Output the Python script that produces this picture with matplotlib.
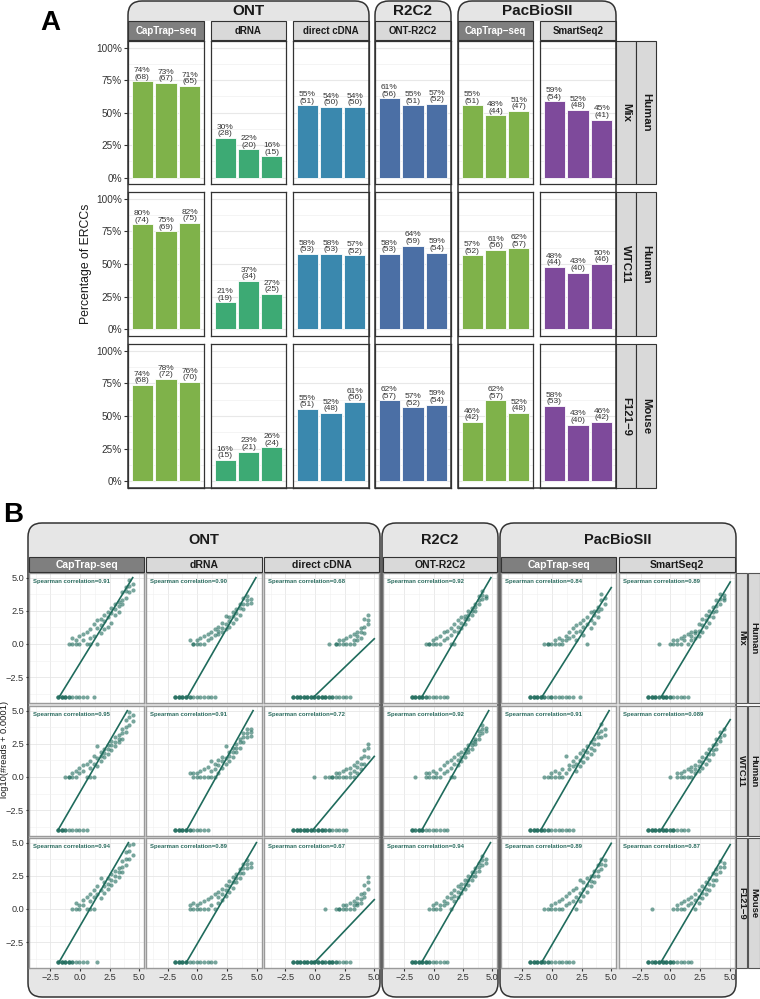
import numpy as np
import matplotlib.pyplot as plt
from matplotlib.path import Path
from matplotlib.patches import PathPatch, Rectangle

plt.rcParams['font.family'] = ['Liberation Sans', 'DejaVu Sans']

NA = np.nan

# ---------------- panel A data ----------------
platforms = ['ONT', 'R2C2', 'PacBioSII']
protocols_a = ['CapTrap−seq', 'dRNA', 'direct cDNA', 'ONT-R2C2', 'CapTrap−seq', 'SmartSeq2']
protocols_b = ['CapTrap-seq', 'dRNA', 'direct cDNA', 'ONT-R2C2', 'CapTrap-seq', 'SmartSeq2']
samples = ['Mix', 'WTC11', 'F121−9']
species = ['Human', 'Human', 'Mouse']
n_ercc = 92
bar_colors = ['#7fb24a', '#3daa74', '#3a88ae', '#4b6fa5', '#7fb24a', '#7e4a9b']

# detected ERCCs per replicate (3 bars per protocol)
det_mix = [[68, 67, 65], [28, 20, 15], [51, 50, 50], [56, 51, 52], [51, 44, 47], [54, 48, 41]]
det_wtc = [[74, 69, 75], [19, 34, 25], [53, 53, 52], [53, 59, 54], [52, 56, 57], [44, 40, 46]]
det_mus = [[68, 72, 70], [15, 21, 24], [51, 48, 56], [57, 52, 54], [42, 57, 48], [53, 40, 42]]

# ---------------- panel B data ----------------
# log10 expected ERCC abundance, three transcripts per level
ercc_levels = [-1.85, -1.55, -1.25, -0.95, -0.65, -0.35, -0.05, 0.25, 0.55, 0.85, 1.15,
               1.45, 1.75, 2.05, 2.35, 2.65, 2.95, 3.25, 3.55, 3.85, 4.15, 4.45]

y_mix_captrap = [
    -4,-4,-4, -4,-4,-4, -4,-4,-4, -4,-4,0, -4,0,0.48, -4,0,0.3, -4,0,0.6, -4,0.3,0.78,
    -4,0,0.9, 0,0.48,1.1, -4,0.6,1.5, 0,1.2,1.8, 0.85,1.4,1.9, 1.1,1.7,2.2, 1.3,2.0,2.4,
    1.6,2.3,2.7, 2.2,2.6,3.0, 2.4,2.9,3.2, 3.0,3.3,3.9, 3.5,4.0,4.3, 3.9,4.4,4.8, 4.1,4.5,NA]
y_mix_drna = [
    -4,-4,-4, -4,-4,-4, -4,-4,-4, -4,-4,-4, -4,-4,0.3, -4,0,0, -4,0,0.3, -4,0,0.48,
    -4,0,0.6, -4,0.3,0.78, -4,0.48,0.9, -4,0.7,1.1, 0.78,1.0,1.3, 0.9,1.2,1.6, 1.1,1.5,2.1,
    1.3,1.7,2.0, 1.6,2.1,2.4, 1.9,2.3,2.6, 2.2,2.7,3.0, 2.6,3.0,3.5, 3.0,3.3,3.6, 3.1,3.4,NA]
y_mix_dcdna = [
    -4,-4,-4, -4,-4,-4, -4,-4,-4, -4,-4,-4, -4,-4,-4, -4,-4,-4, -4,-4,-4, -4,-4,-4,
    -4,-4,-4, -4,-4,-4, -4,-4,0, -4,-4,NA, -4,0,0, -4,0,0.3, -4,0,0.3,
    -4,0,0.48, -4,0,0.6, 0,0.3,0.78, 0.3,0.6,0.9, 0.48,0.9,1.2, 0.85,1.3,1.9, 1.5,1.8,2.2]
y_mix_r2c2 = [
    -4,-4,-4, -4,-4,-4, -4,-4,-4, -4,-4,-4, -4,-4,0, -4,0,0, -4,0,0.3, -4,0,0.48,
    -4,0,0.6, -4,0.3,0.9, -4,0.48,1.0, 0,0.7,1.2, 0,1.0,1.5, 0.9,1.3,1.8, 1.2,1.6,2.0,
    1.5,1.9,2.1, 1.9,2.2,2.5, 2.2,2.5,2.7, 2.5,2.8,3.0, 3.0,3.3,3.6, 3.4,3.7,4.0, 3.5,3.6,NA]
y_mix_pbcap = [
    -4,-4,-4, -4,-4,-4, -4,-4,-4, -4,-4,-4, -4,-4,0, -4,0,0, -4,0,-4, -4,0,0.3,
    -4,0,0.48, -4,0,0.3, -4,0.3,0.6, -4,0.48,0.9, -4,0.6,1.2, 0.3,0.9,1.4, -4,1.0,1.6,
    0.7,1.3,1.8, 0,1.5,2.0, 1.2,1.8,2.4, 1.6,2.2,2.5, 2.0,2.5,2.8, 2.6,3.3,3.8, 3.0,3.5,NA]
y_mix_ss2 = [
    -4,-4,-4, -4,-4,-4, -4,-4,-4, -4,-4,0, -4,-4,-4, -4,-4,-4, -4,0,-4, -4,0,0.3,
    -4,0,0.3, -4,0,0.48, -4,0.3,0.6, -4,0,0.78, 0.3,0.6,0.9, 0.48,0.8,1.0, 0.6,1.0,1.5,
    0.9,1.4,1.9, 1.3,1.8,2.2, 1.6,2.1,2.5, 2.0,2.4,2.8, 2.5,2.9,3.3, 3.0,3.4,3.8, 3.3,3.7,3.5]

y_wtc_captrap = [
    -4,-4,-4, -4,-4,-4, -4,0,-4, -4,0,0, -4,0,0.3, -4,0,0.48, -4,0.3,0.7, -4,0.48,0.9,
    -4,0,1.0, 0,0.7,1.2, 0,1.0,1.6, 0.85,1.4,2.3, 1.2,1.6,1.9, 1.5,1.8,2.1, 1.7,2.1,2.4,
    2.0,2.4,2.7, 2.3,2.6,3.0, 2.6,2.9,3.2, 2.9,3.3,3.6, 3.4,3.8,4.3, 3.9,4.5,4.9, 4.2,4.7,NA]
y_wtc_drna = [
    -4,-4,-4, -4,-4,-4, -4,-4,-4, -4,-4,-4, -4,-4,0.3, -4,0,0.3, -4,0,0.3, -4,0,0.48,
    -4,0,0.6, -4,0,0.78, 0,0.48,1.2, 0,0.6,1.0, 0.3,0.9,1.3, 0.7,1.2,1.5, 1.0,1.4,2.3,
    1.2,1.6,1.9, 1.5,1.9,2.2, 1.9,2.2,2.5, 2.2,2.6,2.9, 2.6,3.0,3.3, 3.0,3.3,3.6, 3.1,3.4,3.6]
y_wtc_dcdna = [
    -4,-4,-4, -4,-4,-4, -4,-4,-4, -4,-4,-4, -4,-4,-4, -4,-4,-4, -4,-4,0, -4,-4,-4,
    -4,-4,-4, -4,-4,0, -4,-4,0, -4,0,0, -4,0,0.3, -4,0,0.3, -4,0,0.48,
    -4,0,0.6, 0,0.3,0.7, 0,0.48,0.9, 0.3,0.78,1.1, 0.6,1.0,1.4, 1.0,1.6,2.0, 1.5,2.2,2.5]
y_wtc_r2c2 = [
    -4,-4,-4, -4,0,-4, -4,-4,-4, -4,-4,-4, -4,0,0.3, -4,0,0.3, -4,0,0.48, -4,0,0.3,
    -4,0,0.6, -4,0.3,0.9, -4,0.48,1.1, 0,0.7,1.3, 0,1.0,1.5, 0.9,1.3,1.7, 1.2,1.5,1.9,
    1.5,1.8,2.1, 1.9,2.1,2.4, 2.1,2.4,2.6, 2.5,2.7,2.9, 2.9,3.2,3.5, 3.3,3.6,3.9, 3.5,3.7,NA]
y_wtc_pbcap = [
    -4,-4,-4, -4,-4,-4, -4,-4,-4, -4,-4,-4, -4,0,-4, -4,0,-4, -4,0,0.3, -4,0,0.48,
    -4,0,0.3, -4,0,0.6, -4,0.3,1.6, -4,0.6,0.9, -4,0.8,1.2, 0.48,1.0,1.5, 0.8,1.3,1.8,
    1.1,1.6,2.0, 1.4,1.9,2.3, 1.7,2.2,2.6, 2.0,2.5,2.9, 2.5,3.0,3.3, 3.0,3.5,4.0, 3.2,3.6,NA]
y_wtc_ss2 = [
    -4,-4,-4, -4,-4,-4, -4,-4,-4, -4,-4,-4, -4,-4,-4, -4,-4,-4, -4,0,-4, -4,-4,-4,
    -4,0,0.3, -4,0,0.3, -4,0,0.48, -4,0,0.6, 0,0.48,0.78, 0.3,0.6,0.9, 0.48,0.85,1.2,
    0.7,1.1,1.5, 1.0,1.4,1.8, 1.3,1.7,2.1, 1.7,2.0,2.4, 2.1,2.5,2.9, 2.7,3.0,3.4, 3.2,3.6,NA]

y_mus_captrap = [
    -4,-4,-4, -4,-4,-4, -4,-4,-4, -4,-4,-4, -4,-4,0, -4,0,0.48, -4,0,0.3, -4,0.3,0.7,
    -4,0,0.9, 0,0.6,1.1, 0,0.9,1.4, -4,1.1,1.7, 0.8,1.4,2.3, 1.2,1.7,2.0, 1.5,1.9,2.3,
    1.8,2.2,2.6, 2.1,2.5,2.9, 2.4,2.8,3.1, 2.8,3.2,3.6, 3.3,3.8,4.3, 3.8,4.4,4.8, 4.1,4.9,NA]
y_mus_drna = [
    -4,-4,-4, -4,-4,-4, -4,-4,-4, -4,-4,-4, -4,0,0.3, -4,0,0.48, -4,0,0.3, -4,0,0.48,
    -4,0,0.6, -4,0,0.78, -4,0.3,0.9, -4,0,1.1, 0.48,0.9,1.3, 0.7,1.1,1.5, 1.0,1.4,1.8,
    1.3,1.7,2.1, 1.6,2.0,2.4, 2.0,2.3,2.6, 2.3,2.7,3.0, 2.7,3.1,3.4, 3.1,3.4,3.7, 3.2,3.5,NA]
y_mus_dcdna = [
    -4,-4,-4, -4,-4,-4, -4,-4,-4, -4,-4,-4, -4,-4,-4, -4,-4,-4, -4,-4,-4, -4,-4,-4,
    -4,-4,-4, -4,-4,0, -4,-4,-4, -4,-4,-4, -4,0,-4, -4,0,0, -4,0,0.3,
    -4,0,0.3, -4,0,0.48, 0,0.3,0.6, 0.3,0.48,0.85, 0.48,0.78,1.1, 0.9,1.2,1.8, 1.5,2.0,2.4]
y_mus_r2c2 = [
    -4,-4,-4, -4,-4,-4, -4,-4,-4, -4,-4,-4, -4,-4,-4, -4,0,-4, -4,0,0.3, -4,0,0.48,
    -4,0,0.3, -4,0.3,0.6, -4,0.48,0.9, 0,0.8,1.2, 0.6,1.0,1.4, 0.9,1.3,1.7, 1.2,1.6,1.9,
    1.5,1.9,2.2, 1.8,2.2,2.5, 2.2,2.5,2.8, 2.5,2.8,3.1, 2.9,3.2,3.5, 3.3,3.7,4.0, 3.5,3.8,NA]
y_mus_pbcap = [
    -4,-4,-4, -4,-4,-4, -4,-4,-4, -4,-4,-4, -4,0,-4, -4,0,-4, -4,0,0.3, -4,0,0.48,
    -4,0,0.6, -4,0,0.78, -4,0.3,1.0, -4,0.48,1.2, -4,0.6,1.4, 0,0.9,1.6, 0.6,1.2,2.2,
    1.0,1.5,2.0, 1.3,1.8,2.3, 1.7,2.1,2.5, 2.0,2.5,2.9, 2.5,2.9,3.3, 3.0,3.4,3.8, 3.3,3.7,NA]
y_mus_ss2 = [
    -4,-4,-4, -4,-4,0, -4,-4,-4, -4,-4,-4, -4,-4,-4, -4,-4,-4, -4,-4,-4, -4,0,-4,
    -4,0,0.3, -4,0,0.48, -4,0,0.6, -4,0.3,0.78, -4,0.48,0.9, 0,0.7,1.1, 0.48,0.9,1.4,
    0.8,1.2,1.7, 1.1,1.5,2.0, 1.4,1.9,2.3, 1.8,2.2,2.7, 2.2,2.6,3.0, 2.8,3.2,3.6, 3.2,3.5,NA]

# linear fit (slope, intercept) shown in each panel
slope_mix = [1.45, 1.57, 0.86, 1.53, 1.41, 1.50]
icpt_mix = [-1.45, -2.68, -3.91, -2.47, -2.80, -2.83]
slope_wtc = [1.54, 1.62, 1.07, 1.58, 1.56, 1.44]
icpt_wtc = [-1.15, -2.54, -3.80, -2.42, -2.52, -2.88]
slope_mus = [1.54, 1.54, 0.94, 1.54, 1.53, 1.53]
icpt_mus = [-1.29, -2.60, -4.00, -2.46, -2.70, -2.80]

rho_mix = ['0.91', '0.90', '0.68', '0.92', '0.84', '0.89']
rho_wtc = ['0.95', '0.91', '0.72', '0.92', '0.91', '0.089']
rho_mus = ['0.94', '0.89', '0.67', '0.94', '0.89', '0.87']

det_rows = [det_mix, det_wtc, det_mus]
y_rows = [[y_mix_captrap, y_mix_drna, y_mix_dcdna, y_mix_r2c2, y_mix_pbcap, y_mix_ss2],
          [y_wtc_captrap, y_wtc_drna, y_wtc_dcdna, y_wtc_r2c2, y_wtc_pbcap, y_wtc_ss2],
          [y_mus_captrap, y_mus_drna, y_mus_dcdna, y_mus_r2c2, y_mus_pbcap, y_mus_ss2]]
slope_rows = [slope_mix, slope_wtc, slope_mus]
icpt_rows = [icpt_mix, icpt_wtc, icpt_mus]
rho_rows = [rho_mix, rho_wtc, rho_mus]

# ---------------- layout helpers (pixel coords, y down) ----------------
W, H = 760, 999
fig = plt.figure(figsize=(W / 100, H / 100), dpi=100)


def fxy(x, y):
    return (x / W, 1 - y / H)


def add_ax(x0, y0, x1, y1):
    return fig.add_axes([x0 / W, 1 - y1 / H, (x1 - x0) / W, (y1 - y0) / H])


def rounded(x0, y0, x1, y1, rt, rb, **kw):
    pts = [(x0, y0 + rt), (x0, y0), (x0 + rt, y0), (x1 - rt, y0), (x1, y0), (x1, y0 + rt),
           (x1, y1 - rb), (x1, y1), (x1 - rb, y1), (x0 + rb, y1), (x0, y1), (x0, y1 - rb),
           (x0, y0 + rt)]
    codes = [Path.MOVETO, Path.CURVE3, Path.CURVE3, Path.LINETO, Path.CURVE3, Path.CURVE3,
             Path.LINETO, Path.CURVE3, Path.CURVE3, Path.LINETO, Path.CURVE3, Path.CURVE3,
             Path.CLOSEPOLY]
    fig.add_artist(PathPatch(Path([fxy(*q) for q in pts], codes),
                             transform=fig.transFigure, **kw))


def strip(x0, y0, x1, y1, text, dark=False, rot=0, size=6.5, ec='#333333'):
    fig.add_artist(Rectangle(fxy(x0, y1), (x1 - x0) / W, (y1 - y0) / H,
                             transform=fig.transFigure, fc='#7f7f7f' if dark else '#d9d9d9',
                             ec=ec, lw=0.8, zorder=2))
    fig.text((x0 + x1) / 2 / W, 1 - (y0 + y1) / 2 / H, text, ha='center', va='center',
             rotation=rot, fontsize=size, fontweight='bold',
             color='white' if dark else '#1a1a1a', zorder=3)


# ================= Panel A =================
a_cols = [(128, 204), (211, 286), (293, 369), (375, 451), (458, 533), (540, 616)]
a_rows = [(41, 184), (192, 336), (344, 488)]
a_groups = [(128, 369), (375, 451), (458, 616)]

for (x0, x1), name in zip(a_groups, platforms):
    rounded(x0, 1, x1, 21, 14, 0, fc='#e5e5e5', ec='none', zorder=-1)
    rounded(x0, 1, x1, 488, 14, 0, fc='none', ec='#333333', lw=1.1, zorder=4)
    fig.text((x0 + x1) / 2 / W, 1 - 11 / H, name, ha='center', va='center',
             fontsize=11, fontweight='bold', color='#1a1a1a')

for c, (x0, x1) in enumerate(a_cols):
    strip(x0, 21, x1, 40, protocols_a[c], dark=(c in (0, 4)), size=7.0)

for r, (y0, y1) in enumerate(a_rows):
    for c, (x0, x1) in enumerate(a_cols):
        ax = add_ax(x0, y0, x1, y1)
        counts = det_rows[r][c]
        pct = [100 * n / n_ercc for n in counts]
        ax.bar(range(3), pct, width=0.9, color=bar_colors[c], edgecolor='white', linewidth=0.6)
        for i, (p, n) in enumerate(zip(pct, counts)):
            ax.text(i, p + 0.5, f'{round(p)}%\n({n})', ha='center', va='bottom',
                    fontsize=6.0, linespacing=0.9, color='#333333')
        ax.set_xlim(-0.6, 2.6)
        ax.set_ylim(-5, 105)
        ax.set_xticks([])
        ax.set_yticks([0, 25, 50, 75, 100])
        ax.set_yticks([12.5, 37.5, 62.5, 87.5], minor=True)
        ax.grid(axis='y', which='major', color='#e8e8e8', lw=0.8)
        ax.grid(axis='y', which='minor', color='#f0f0f0', lw=0.5)
        ax.set_axisbelow(True)
        ax.tick_params(axis='y', which='minor', length=0)
        if c == 0:
            ax.set_yticklabels(['0%', '25%', '50%', '75%', '100%'])
            ax.tick_params(axis='y', which='major', length=3, color='#333333',
                           labelsize=7.2, labelcolor='#333333', pad=1.5)
        else:
            ax.tick_params(axis='y', which='major', length=0, labelleft=False)
        for s in ax.spines.values():
            s.set_color('#333333')
            s.set_linewidth(0.9)
    strip(616, y0, 636, y1, samples[r], rot=-90, size=8.2)
    strip(636, y0, 656, y1, species[r], rot=-90, size=8.2)

fig.text(86 / W, 1 - 264 / H, 'Percentage of ERCCs', rotation=90, ha='center',
         va='center', fontsize=8.8, color='#1a1a1a')
fig.text(50 / W, 1 - 23 / H, 'A', ha='center', va='center', fontsize=20, fontweight='bold')

# ================= Panel B =================
b_cols = [(29, 144), (146, 262), (264, 379), (383, 497), (501, 616), (619, 735)]
b_rows = [(573, 703), (706, 836), (838, 968)]
b_groups = [(28, 380), (382, 498), (500, 736)]
pt_color = '#1f6b5c'

for (x0, x1), name in zip(b_groups, platforms):
    rounded(x0, 523, x1, 997, 14, 14, fc='#e6e6e6', ec='#333333', lw=1.1, zorder=-1)
    fig.text((x0 + x1) / 2 / W, 1 - 540 / H, name, ha='center', va='center',
             fontsize=10.5, fontweight='bold', color='#1a1a1a')

for c, (x0, x1) in enumerate(b_cols):
    strip(x0, 557, x1, 572, protocols_b[c], dark=(c in (0, 4)), size=7.5)

xs = np.repeat(ercc_levels, 3)
ticks = [-2.5, 0, 2.5, 5]
tick_lbl = ['−2.5', '0.0', '2.5', '5.0']

for r, (y0, y1) in enumerate(b_rows):
    for c, (x0, x1) in enumerate(b_cols):
        ax = add_ax(x0, y0, x1, y1)
        ys = np.array(y_rows[r][c], dtype=float)
        n = min(len(xs), len(ys))
        ax.scatter(xs[:n], ys[:n], s=9, color=pt_color, alpha=0.6, lw=0, zorder=3)
        m, b = slope_rows[r][c], icpt_rows[r][c]
        lo = max(ercc_levels[0], (-4 - b) / m)
        hi = min(5.0, (5.0 - b) / m)
        xl = np.array([lo, hi])
        ax.plot(xl, m * xl + b, color=pt_color, lw=1.2, zorder=4)
        ax.text(0.035, 0.935, f'Spearman correlation={rho_rows[r][c]}',
                transform=ax.transAxes, ha='left', va='center', fontsize=4.3,
                fontweight='bold', color='#2a6b5e', zorder=5)
        ax.set_xlim(-4.3, 5.4)
        ax.set_ylim(-4.45, 5.35)
        ax.set_xticks(ticks)
        ax.set_yticks(ticks)
        ax.set_xticks([-3.75, -1.25, 1.25, 3.75], minor=True)
        ax.set_yticks([-3.75, -1.25, 1.25, 3.75], minor=True)
        ax.grid(which='major', color='#e6e6e6', lw=0.6)
        ax.grid(which='minor', color='#f0f0f0', lw=0.4)
        ax.set_axisbelow(True)
        ax.tick_params(which='minor', length=0)
        ax.tick_params(which='major', length=2, color='#333333', labelsize=6.6,
                       labelcolor='#333333', pad=1.5)
        if r == 2:
            ax.set_xticklabels(tick_lbl)
        else:
            ax.tick_params(axis='x', length=0, labelbottom=False)
        if c == 0:
            ax.set_yticklabels(tick_lbl)
        else:
            ax.tick_params(axis='y', length=0, labelleft=False)
        for s in ax.spines.values():
            s.set_color('#9a9a9a')
            s.set_linewidth(1.0)
    strip(736, y0, 747, y1, samples[r], rot=-90, size=6.8, ec='#555555')
    strip(748, y0, 760, y1, species[r], rot=-90, size=6.8, ec='#555555')

fig.text(5 / W, 1 - 750 / H, 'log10(#reads + 0.0001)', rotation=90, ha='center',
         va='center', fontsize=6.7, color='#1a1a1a')
fig.text(13 / W, 1 - 515 / H, 'B', ha='center', va='center', fontsize=20, fontweight='bold')

fig.savefig('out.png', dpi=100)
